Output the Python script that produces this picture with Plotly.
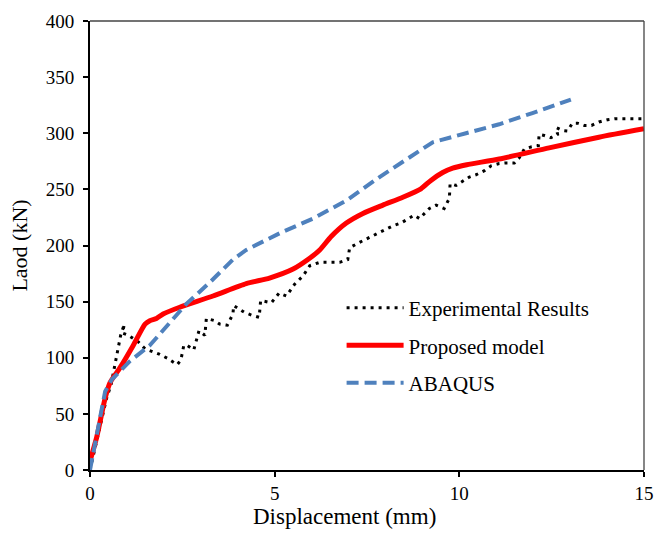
import plotly.graph_objects as go

# Experimental results
exp_x = [0, 0.3, 0.45, 0.57, 0.68, 0.76, 0.83, 0.93, 0.88, 1.04, 1.31, 1.49, 1.69, 1.89, 2.09, 2.36,
         2.46, 2.50, 2.54, 2.63, 2.81, 2.86, 2.95, 3.11, 3.15, 3.38, 3.51, 3.72, 3.87, 3.89, 4.17, 4.37,
         4.58, 4.62, 4.91, 5.12, 5.32, 5.54, 5.77, 5.95, 6.22, 6.49, 6.76, 6.98, 7.03, 7.25, 7.43, 7.61,
         7.79, 8.02, 8.20, 8.42, 8.78, 8.92, 9.19, 9.37, 9.59, 9.73, 9.75, 9.91, 10.27, 10.45, 10.68,
         10.86, 11.08, 11.26, 11.49, 11.62, 11.76, 11.96, 12.14, 12.16, 12.30, 12.48, 12.66, 12.63,
         12.79, 12.93, 13.06, 13.20, 13.38, 13.58, 13.78, 14.01, 14.23, 14.46, 14.68, 15.0]
exp_y = [0, 41, 64, 76, 94, 108, 120, 130, 122, 120, 114, 108, 105.5, 103, 99.6, 93.8,
         98, 105.5, 111, 111, 107, 113, 124, 120, 135, 133, 130, 129, 139, 146.5, 140.6, 138,
         136, 151, 149, 157.6, 155, 165.5, 173, 182, 185, 185, 185, 187.5, 198, 202, 205, 208,
         211, 215, 217.5, 220, 227, 224, 233, 236, 233, 242, 255, 253.5, 261, 263, 266.7,
         271, 273, 273.5, 273.5, 278, 286, 288, 289, 299, 298, 296, 299, 305,
         302.5, 302, 309, 309, 307, 307, 310, 312, 313, 313, 313, 313]

# Proposed model
mod_x = [0, 0.18, 0.41, 0.54, 0.81, 1.17, 1.49, 1.62, 1.80, 1.98, 2.43, 3.33, 4.23, 4.86, 5.50,
         5.90, 6.22, 6.53, 6.94, 7.39, 7.93, 8.47, 8.96, 9.23, 9.55, 9.82, 10.2, 11.08, 12.43,
         13.78, 15.0]
mod_y = [8, 29, 64, 77.6, 91, 111, 130, 133, 135, 139, 145, 155, 166, 171, 179,
         187.5, 196, 208, 220, 228.6, 236, 243, 250.5, 258, 265, 269, 272, 277, 287,
         296.5, 304]

# ABAQUS
abq_x = [0, 0.18, 0.41, 0.59, 1.08, 1.62, 2.61, 3.24, 3.87, 4.23, 5.14, 6.04, 6.94, 7.84,
         8.74, 9.28, 10.18, 11.08, 11.98, 13.02]
abq_y = [0, 29, 70, 80.6, 97, 111, 148, 167, 187.5, 196, 211, 224, 240, 261,
         281, 292, 300, 308, 318, 330]

x_ticks = [0, 5, 10, 15]
y_ticks = [0, 50, 100, 150, 200, 250, 300, 350, 400]

font_family = "Liberation Serif"

fig = go.Figure()
fig.add_trace(go.Scatter(x=exp_x, y=exp_y, mode="lines", name="Experimental Results",
                         line=dict(color="black", width=3, dash="3px,5px"), legend="legend",
                         showlegend=True))
fig.add_trace(go.Scatter(x=mod_x, y=mod_y, mode="lines", name="Proposed model",
                         line=dict(color="#ff0000", width=5, shape="spline", smoothing=0.6),
                         legend="legend2", showlegend=True))
fig.add_trace(go.Scatter(x=abq_x, y=abq_y, mode="lines", name="ABAQUS",
                         line=dict(color="#4f81bd", width=4, dash="12px,6px"), legend="legend3",
                         showlegend=True))

leg_common = dict(bgcolor="rgba(0,0,0,0)", borderwidth=0, xanchor="left", yanchor="middle",
                  itemwidth=57,
                  font=dict(family=font_family, size=21, color="black"))

W, H = 665, 541
L, R, T, B = 90, 11, 15, 71
pw = W - L - R
ph = H - T - B
SX, OX = 0.984, 1.4


def px_x(p):
    return ((p - OX) / SX - L) / pw


def px_y(p):
    return (H - B - p) / ph


legx = px_x(342)

fig.update_layout(
    width=W, height=H,
    margin=dict(l=L, r=R, t=T, b=B),
    showlegend=True,
    paper_bgcolor="white", plot_bgcolor="white",
    font=dict(family=font_family, size=18, color="black"),
    legend=dict(x=legx, y=px_y(306), **leg_common),
    legend2=dict(x=legx, y=px_y(344), **leg_common),
    legend3=dict(x=legx, y=px_y(382), **leg_common),
    xaxis=dict(range=[0, 15], tickvals=x_ticks, ticks="outside", ticklen=5, tickwidth=1.5,
               tickcolor="black", showline=True, linecolor="black", linewidth=2,
               showgrid=False, zeroline=False, tickfont=dict(family=font_family, size=19)),
    yaxis=dict(range=[0, 400], tickvals=y_ticks, ticks="outside", ticklen=5, tickwidth=1.5,
               tickcolor="black", showline=True, linecolor="black", linewidth=2,
               showgrid=False, zeroline=False, tickfont=dict(family=font_family, size=19),
               ticklabelstandoff=5,
               title=dict(text="Laod (kN)", font=dict(family=font_family, size=22),
                          standoff=12)),
    annotations=[
        dict(text="Displacement (mm)", xref="paper", yref="paper",
             x=px_x(345), y=px_y(517), xanchor="center", yanchor="middle",
             showarrow=False, font=dict(family=font_family, size=23, color="black")),
    ],
    shapes=[
        dict(type="line", xref="paper", yref="paper", x0=0, x1=1, y0=1, y1=1,
             line=dict(color="#444", width=1.3)),
        dict(type="line", xref="paper", yref="paper", x0=1, x1=1, y0=0, y1=1,
             line=dict(color="#444", width=1.3)),
    ],
)

fig.write_html("out.html", config={"displayModeBar": False},
               post_script="document.body.style.margin='0';document.body.style.overflow='hidden';")
